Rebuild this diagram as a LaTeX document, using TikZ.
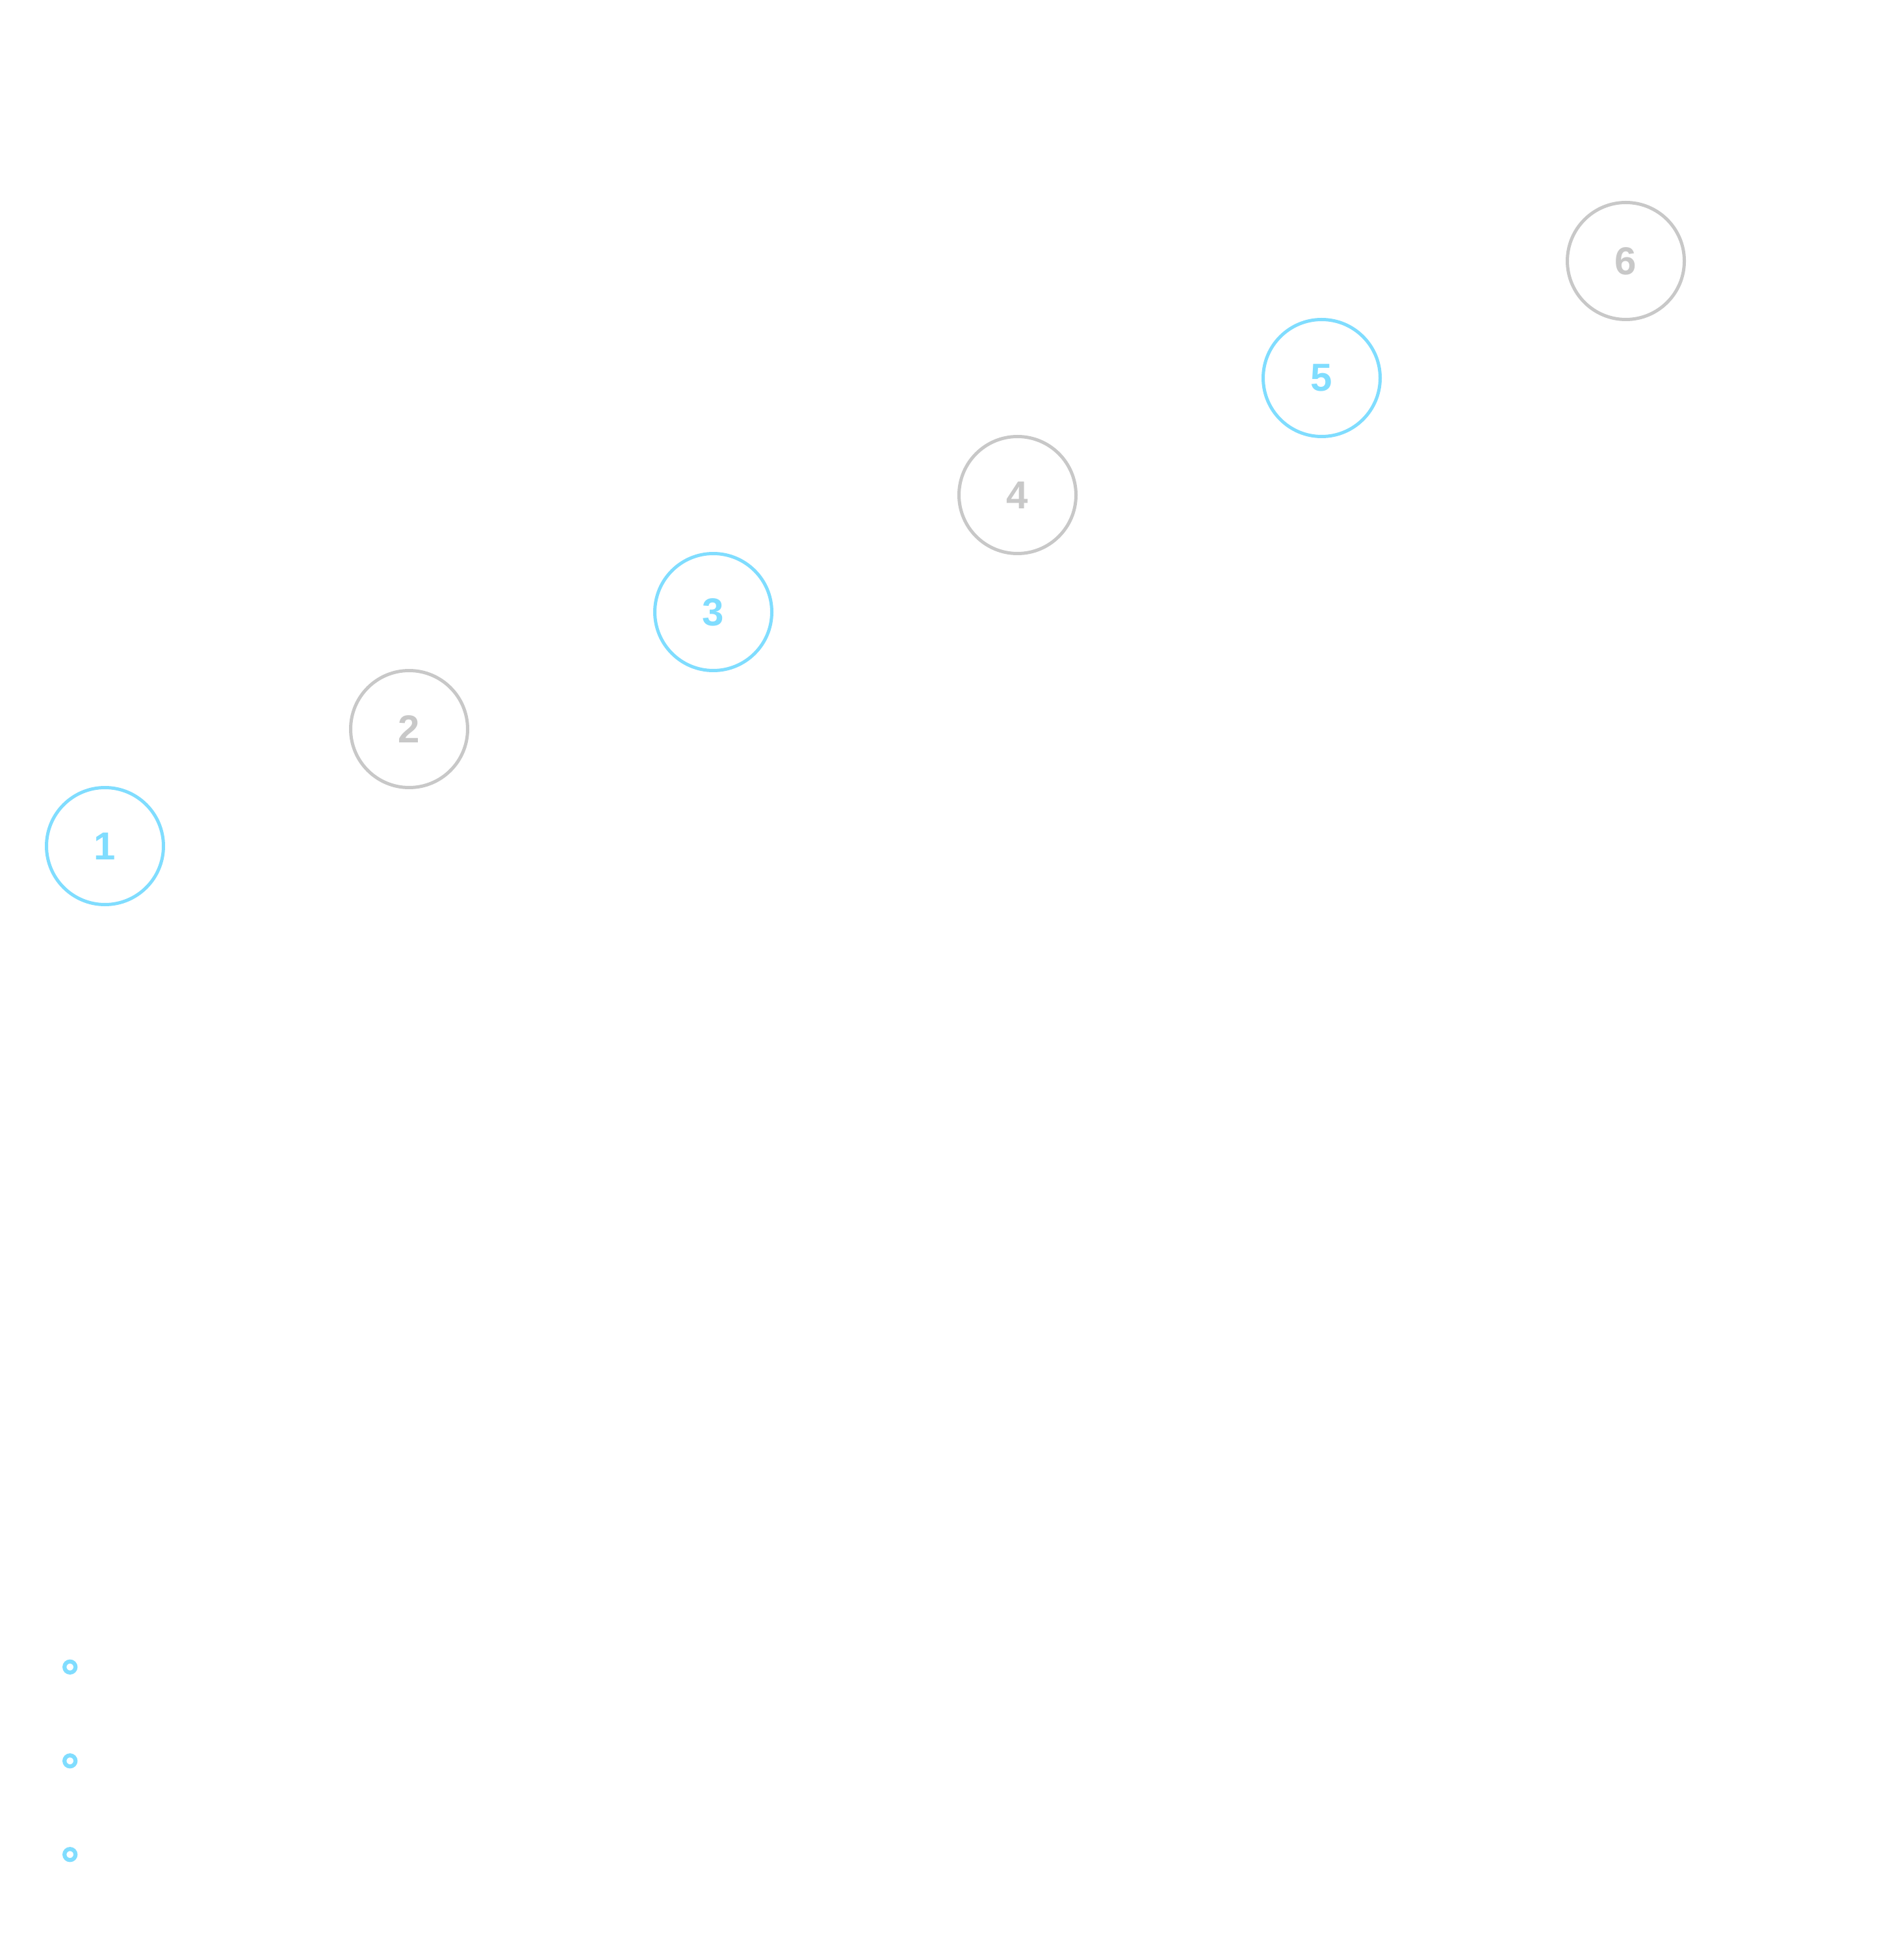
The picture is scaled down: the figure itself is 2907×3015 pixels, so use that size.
\documentclass[tikz,border=0pt]{standalone}
\usepackage{fontspec}
\setmainfont{Liberation Sans}
\definecolor{cblue}{HTML}{80DDFF}
\definecolor{cgray}{HTML}{C8C8C8}
\begin{document}
\begin{tikzpicture}[x=0.1pt,y=-0.1pt,
  stepnode/.style={circle,draw,line width=0.5pt,minimum size=18pt,inner sep=0pt,font=\fontsize{6}{7}\selectfont\bfseries},
  bluestep/.style={stepnode,draw=cblue,text=cblue},
  graystep/.style={stepnode,draw=cgray,text=cgray},
  dot/.style={circle,draw=cblue,line width=0.62pt,minimum size=1.7pt,inner sep=0pt}]
\useasboundingbox[fill=white] (0,0) rectangle (2907,3015);
\node[bluestep] (n1) at (161.5,1301.5) {1};
\node[graystep] (n2) at (629.5,1121.5) {2};
\node[bluestep] (n3) at (1097.5,941.5) {3};
\node[graystep] (n4) at (1565.5,761.5) {4};
\node[bluestep] (n5) at (2033.5,581.5) {5};
\node[graystep] (n6) at (2501.5,401.5) {6};
\node[dot] (d1) at (107.7,2564.3) {};
\node[dot] (d2) at (107.7,2708.7) {};
\node[dot] (d3) at (107.7,2852.7) {};
\end{tikzpicture}
\end{document}
